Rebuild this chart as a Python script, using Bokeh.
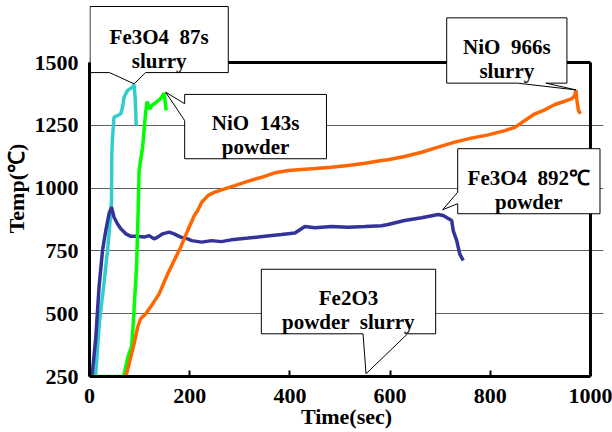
from bokeh.plotting import figure
from bokeh.models import Range1d, FixedTicker
from bokeh.core.properties import value
from bokeh.embed import file_html
from bokeh.resources import INLINE

# ---------------- data ----------------
x_ticks = [0, 200, 400, 600, 800, 1000]
y_ticks = [250, 500, 750, 1000, 1250, 1500]

# Fe3O4 slurry (87 s)
fe3o4_slurry_t = [12, 20, 28, 36, 43, 44, 44.5, 46, 49, 56, 62.5, 66, 69, 76, 86, 89, 91, 92.5, 93]
fe3o4_slurry_T = [250, 470, 605, 752, 911, 964, 1137, 1203, 1283, 1289, 1296, 1322, 1362, 1389, 1402, 1412, 1362, 1296, 1249]

# Fe3O4 powder (892 C)
fe3o4_powder_t = [5, 12.6, 19, 26, 32.5, 39, 44, 49, 56, 62.5, 72.5, 82.5, 96, 109, 119, 129, 136, 146, 159, 169,
                  182, 196, 204, 224, 244, 263, 283, 317, 350, 383, 410, 420, 430, 450, 483, 516, 550, 583, 596,
                  629, 663, 696, 706, 723, 726, 733, 739, 746]
fe3o4_powder_T = [250, 406, 605, 752, 831, 898, 924, 884, 857, 838, 818, 808, 808, 805, 811, 798, 805, 818, 825, 818,
                  805, 798, 791, 785, 791, 787, 794, 801, 808, 815, 821, 834, 847, 842, 847, 844, 847, 850, 855,
                  871, 882, 895, 891, 871, 831, 791, 738, 712]

# NiO powder (143 s)
nio_powder_t = [0, 68, 77, 84, 87, 90, 94, 97, 99, 106, 112, 115, 120, 125, 132, 140, 146, 149, 151, 153]
nio_powder_T = [250, 250, 330, 369, 449, 555, 688, 900, 1070, 1163, 1300, 1345, 1315, 1330, 1340, 1352, 1368, 1378, 1345, 1309]

# NiO slurry (966 s)
nio_slurry_t = [72.5, 79, 89, 96, 102, 112, 126, 139, 156, 169, 182, 196, 209, 216, 224, 237, 250, 270, 290, 317,
                343, 370, 397, 423, 450, 483, 516, 550, 583, 596, 629, 663, 696, 729, 762, 796, 829, 849, 869,
                889, 909, 929, 949, 962, 969, 971, 973, 976, 980]
nio_slurry_T = [250, 300, 380, 446, 480, 499, 539, 579, 658, 712, 765, 831, 890, 911, 944, 971, 984, 997, 1010, 1028,
                1043, 1061, 1070, 1074, 1078, 1083, 1090, 1099, 1110, 1113, 1126, 1143, 1163, 1183, 1199, 1212, 1229, 1242, 1269,
                1296, 1312, 1333, 1346, 1355, 1369, 1390, 1349, 1309, 1296]

callout_line1 = ["Fe3O4 \u00a087s", "NiO \u00a0143s", "NiO \u00a0966s", "Fe3O4 \u00a0892\u2103", "Fe2O3"]
callout_line2 = ["slurry", "powder", "slurry", "powder", "powder \u00a0slurry"]

# ---------------- layout of callouts (box x0, x1, y0, y1; pointer edge, base, tip) ----------------
callout_layout = [
    dict(box=(1, 277, 1460, 1723), edge="bottom", base=(40, 112), tip=(89, 1415)),
    dict(box=(190, 473, 1117, 1373), edge="left", base=(1336, 1269), tip=(152, 1382)),
    dict(box=(713, 953, 1418, 1678), edge="bottom", base=(854, 911), tip=(971, 1391)),
    dict(box=(735, 1019, 898, 1157), edge="left", base=(984, 938), tip=(705, 914)),
    dict(box=(343, 691, 420, 677), edge="bottom", base=(546, 635), tip=(552, 261)),
]

FONT = "Liberation Serif"
X_RANGE = (0, 1026)
Y_RANGE = (250, 1747)
FRAME_W, FRAME_H = 514, 376

p = figure(frame_width=FRAME_W, frame_height=FRAME_H,
           x_range=Range1d(*X_RANGE), y_range=Range1d(*Y_RANGE),
           output_backend="svg", toolbar_location=None,
           min_border_left=88, min_border_right=10, min_border_top=0, min_border_bottom=54,
           x_axis_label="Time(sec)", y_axis_label="Temp(\u2103)")
p.outline_line_color = None
p.background_fill_color = "white"
p.border_fill_color = "white"

# axes
xa = p.xaxis[0]
xa.bounds = (x_ticks[0], x_ticks[-1])
xa.ticker = FixedTicker(ticks=x_ticks)
xa.axis_line_width = 3
xa.axis_line_color = "black"
xa.major_tick_in = 6
xa.major_tick_out = 0
xa.major_tick_line_width = 2
xa.major_tick_line_color = "black"
xa.minor_tick_line_color = None
xa.major_label_standoff = 12
xa.major_label_text_font = FONT
xa.major_label_text_font_style = "bold"
xa.major_label_text_font_size = "22px"
xa.major_label_text_color = "black"
xa.axis_label_text_font = FONT
xa.axis_label_text_font_style = "bold"
xa.axis_label_text_font_size = "22px"
xa.axis_label_text_color = "black"
xa.axis_label_standoff = -2

ya = p.yaxis[0]
ya.bounds = (y_ticks[0], y_ticks[-1])
ya.ticker = FixedTicker(ticks=y_ticks)
ya.axis_line_width = 3
ya.axis_line_color = "black"
ya.major_tick_in = 0
ya.major_tick_out = 0
ya.major_tick_line_color = None
ya.minor_tick_line_color = None
ya.major_label_standoff = 11
ya.major_label_text_font = FONT
ya.major_label_text_font_style = "bold"
ya.major_label_text_font_size = "22px"
ya.major_label_text_color = "black"
ya.axis_label_text_font = FONT
ya.axis_label_text_font_style = "bold"
ya.axis_label_text_font_size = "22px"
ya.axis_label_text_color = "black"
ya.axis_label_standoff = 3

p.xgrid.visible = False
p.ygrid.ticker = FixedTicker(ticks=y_ticks[1:-1])
p.ygrid.bounds = (x_ticks[0], x_ticks[-1])
p.ygrid.grid_line_color = "#606060"
p.ygrid.grid_line_width = 1

# plot-area border (top and right)
p.segment(x0=[x_ticks[0], x_ticks[-1]], y0=[y_ticks[-1], y_ticks[0]],
          x1=[x_ticks[-1], x_ticks[-1]], y1=[y_ticks[-1], y_ticks[-1]],
          line_color="black", line_width=3)

# series
p.line(fe3o4_slurry_t, fe3o4_slurry_T, line_color="#33CCCC", line_width=3.5)
p.line(fe3o4_powder_t, fe3o4_powder_T, line_color="#333399", line_width=3.5)
p.line(nio_powder_t, nio_powder_T, line_color="#00FF00", line_width=3.5)
p.line(nio_slurry_t, nio_slurry_T, line_color="#FF6600", line_width=3.5)

# callouts
xs, ys = [], []
cx, l1y, l2y = [], [], []
data_per_px = (Y_RANGE[1] - Y_RANGE[0]) / FRAME_H
for c in callout_layout:
    x0, x1, y0, y1 = c["box"]
    tx, ty = c["tip"]
    b0, b1 = c["base"]
    if c["edge"] == "bottom":
        px_ = [x0, x1, x1, b1, tx, b0, x0]
        py_ = [y1, y1, y0, y0, ty, y0, y0]
    else:  # left
        px_ = [x0, x1, x1, x0, x0, tx, x0]
        py_ = [y1, y1, y0, y0, b1, ty, b0]
    xs.append(px_)
    ys.append(py_)
    cx.append((x0 + x1) / 2)
    l1y.append(y0 + 36 * data_per_px)
    l2y.append(y0 + 12 * data_per_px)

p.patches(xs, ys, fill_color="white", line_color="black", line_width=1)
p.text(x=cx, y=l1y, text=callout_line1, text_align="center", text_baseline="alphabetic",
       text_font=value(FONT), text_font_style="bold", text_font_size="21px", text_color="black")
p.text(x=cx, y=l2y, text=callout_line2, text_align="center", text_baseline="alphabetic",
       text_font=value(FONT), text_font_style="bold", text_font_size="21px", text_color="black")

open("out.html", "w").write(file_html(p, INLINE))
